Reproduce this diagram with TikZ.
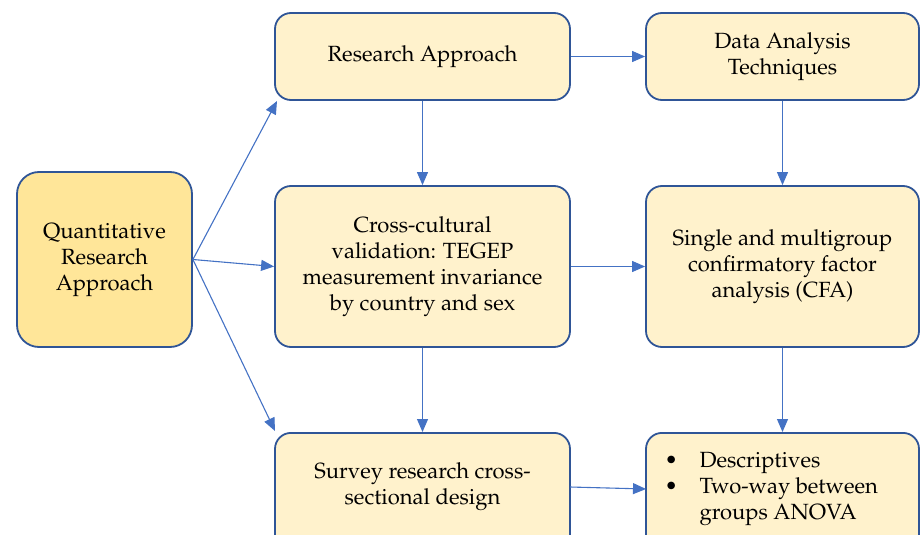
\documentclass[tikz,border=0pt]{standalone}
\usepackage[T1]{fontenc}
\usepackage{mathpazo}
\usetikzlibrary{arrows.meta}
\definecolor{bordc}{HTML}{2F5597}
\definecolor{arrc}{HTML}{4472C4}
\definecolor{goldf}{HTML}{FFE699}
\definecolor{lightf}{HTML}{FFF2CC}
\tikzset{
  txt/.style={font=\fontsize{22}{26}\selectfont},
  box/.style={draw=bordc, line width=1.8pt, fill=lightf, rounded corners=16pt,
    align=center, txt, inner sep=0pt},
  mainbox/.style={box, fill=goldf, rounded corners=22pt},
  conn/.style={draw=arrc, line width=1.1pt, -{Triangle[length=13pt,width=11pt]}}
}
\begin{document}
\begin{tikzpicture}[x=1pt,y=-1pt]
\useasboundingbox (0,0) rectangle (921,535);
\clip (0,0) rectangle (921,535);
\node[mainbox, minimum width=175pt, minimum height=175pt] (qra) at (104.5,259.5) {Quantitative\\Research\\Approach};
\node[box, minimum width=295pt, minimum height=87pt] (ra) at (422.5,56.5) {Research Approach};
\node[box, minimum width=273pt, minimum height=87pt] (dat) at (782.5,56.5) {Data Analysis\\Techniques};
\node[box, minimum width=295pt, minimum height=161pt] (cc) at (422.5,266.5) {Cross-cultural\\validation: TEGEP\\measurement invariance\\by country and sex};
\node[box, minimum width=273pt, minimum height=161pt] (sm) at (782.5,266.5) {Single and multigroup\\confirmatory factor\\analysis (CFA)};
\node[box, minimum width=295pt, minimum height=120pt, anchor=north] (sv) at (422.5,432) {};
\node[txt, align=center] (svt) at (422.5,487) {Survey research cross-\\sectional design};
\node[box, minimum width=273pt, minimum height=120pt, anchor=north] (de) at (782.5,432) {};
\node[txt, align=left, anchor=west] (det) at (661,489) {%
\makebox[35pt][l]{\textbullet}Descriptives\\
\makebox[35pt][l]{\textbullet}Two-way between\\
\hspace*{35pt}groups ANOVA};
\coordinate (raend) at (277,101);
\coordinate (svend) at (275,431);
\draw[conn] (qra.east) -- (raend);
\draw[conn] (qra.east) -- (cc.west);
\draw[conn] (qra.east) -- (svend);
\draw[conn] (ra.south) -- (cc.north);
\draw[conn] (ra.east) -- (dat.west);
\draw[conn] (dat.south) -- (sm.north);
\draw[conn] (cc.east) -- (sm.west);
\draw[conn] (cc.south) -- (sv.north);
\draw[conn] (sm.south) -- (de.north);
\coordinate (svr) at (570,487);
\coordinate (del) at (646,489);
\draw[conn] (svr) -- (del);
\end{tikzpicture}
\end{document}
